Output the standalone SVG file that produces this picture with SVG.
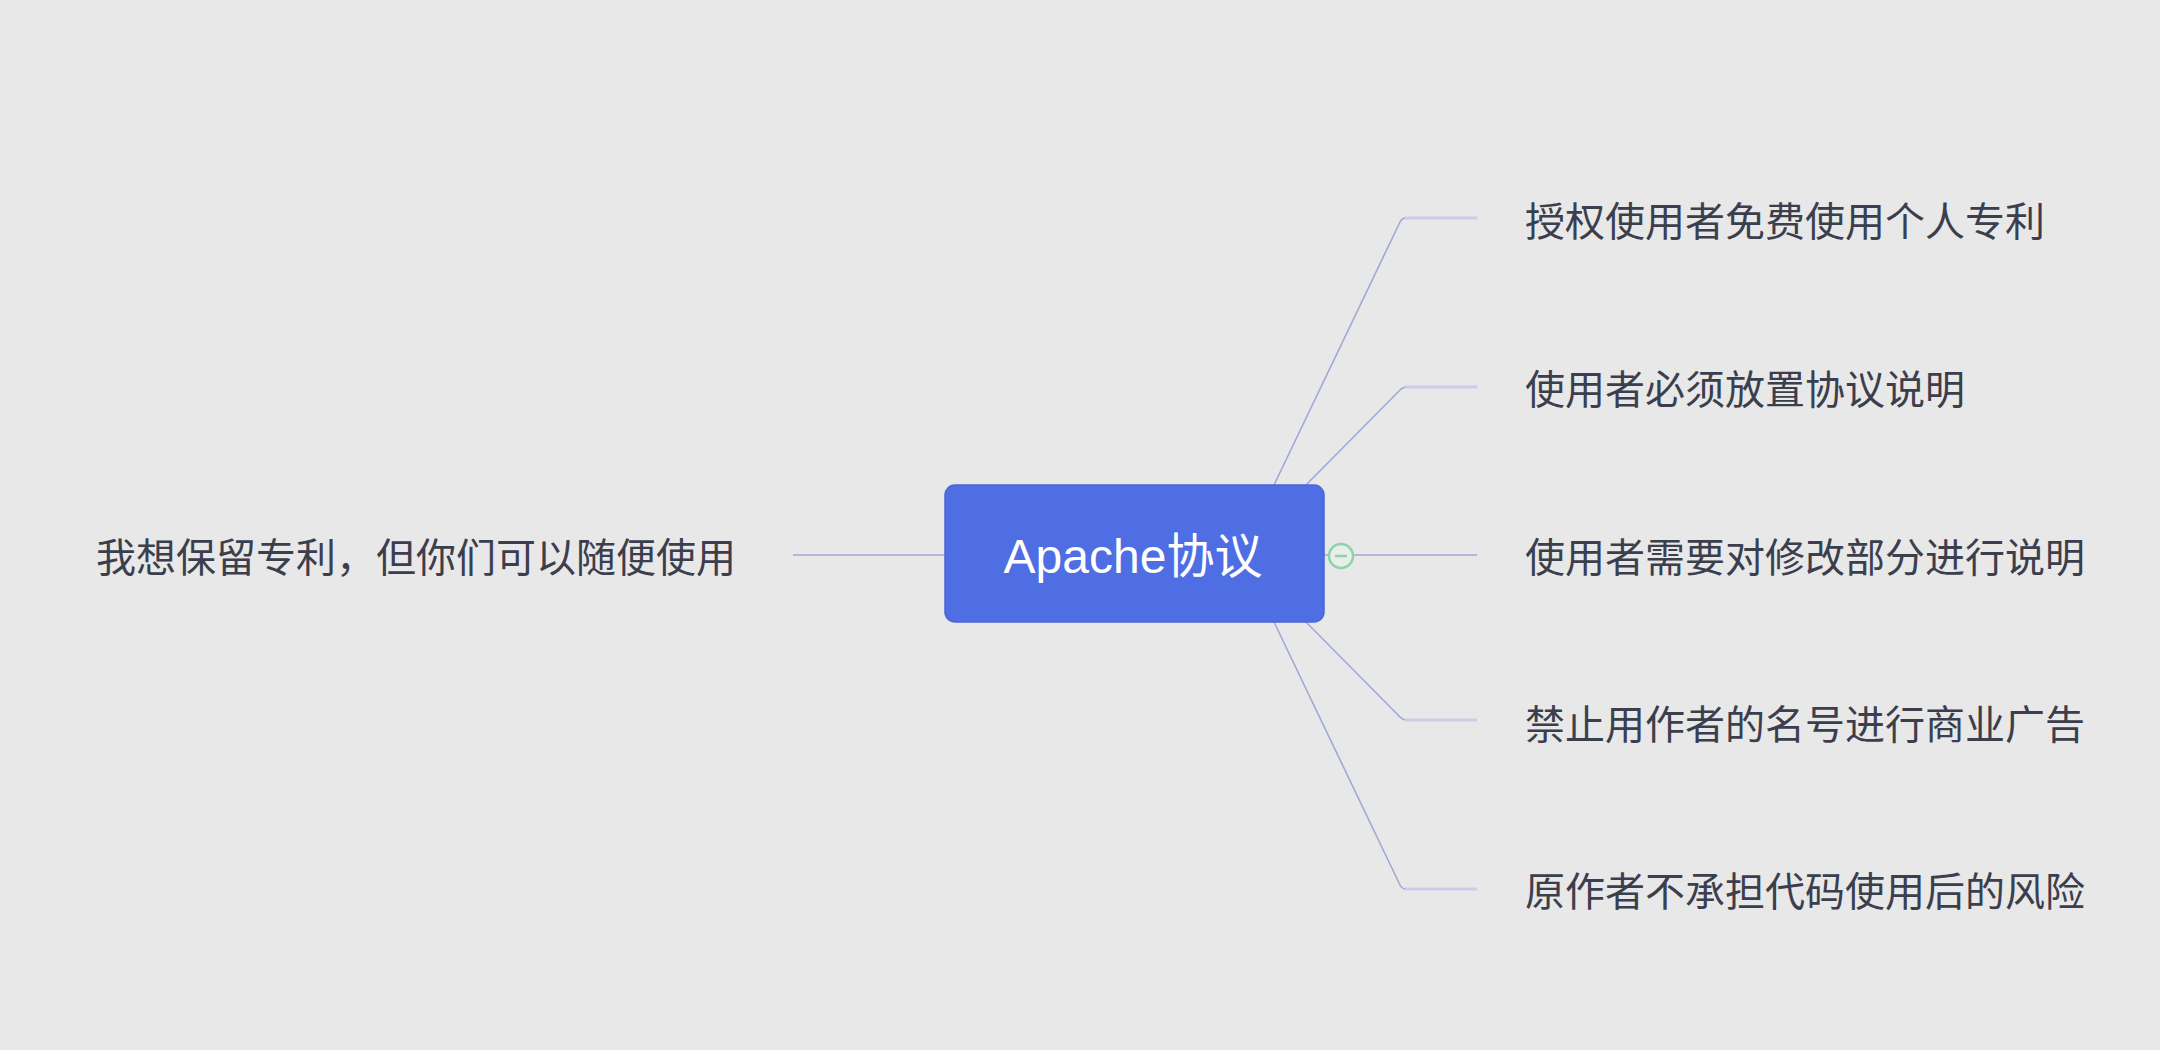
<svg xmlns="http://www.w3.org/2000/svg" width="2160" height="1050" viewBox="0 0 2160 1050">
<style>
.bg{fill:#e8e8e8}
.lbl{font-family:"Noto Sans CJK SC","Liberation Sans",sans-serif;font-size:40px;fill:#3b3e4d;dominant-baseline:central}
.diag{fill:none;stroke:#a0a8d8;stroke-width:1.6;stroke-linejoin:round}
.hor{fill:none;stroke:#c9cdea;stroke-width:3;stroke-linecap:butt}
.root-text{font-family:"Liberation Sans","Noto Sans CJK SC",sans-serif;font-size:48px;fill:#ffffff;dominant-baseline:central;text-anchor:middle}
</style>
<rect class="bg" x="0" y="0" width="2160" height="1050"/>
<g id="connectors">
  <path class="diag" d="M1274,485 L1400,222 Q1402,218 1406,218"/>
  <line class="hor" x1="1405" y1="218" x2="1477" y2="218"/>
  <path class="diag" d="M1306,485 L1400,390 Q1403,387 1407,387"/>
  <line class="hor" x1="1405" y1="387" x2="1477" y2="387"/>
  <line class="diag" x1="1354" y1="555" x2="1477" y2="555"/>
  <path class="diag" d="M1306,622 L1400,717 Q1403,720 1407,720"/>
  <line class="hor" x1="1405" y1="720" x2="1477" y2="720"/>
  <path class="diag" d="M1274,622 L1400,885 Q1402,889 1406,889"/>
  <line class="hor" x1="1405" y1="889" x2="1477" y2="889"/>
  <line class="diag" x1="793" y1="555" x2="945" y2="555"/>
  <line class="diag" x1="1323" y1="555" x2="1329" y2="555"/>
</g>
<g id="root">
  <rect x="945" y="485" width="379" height="137" rx="10" ry="10" fill="#4f6ee3" stroke="#4a66d6" stroke-width="1.5"/>
  <text class="root-text" x="1133" y="556">Apache协议</text>
</g>
<g id="collapse">
  <circle cx="1341" cy="556" r="12" fill="#e8eee9" stroke="#8fd1a8" stroke-width="2.5"/>
  <line x1="1335" y1="556" x2="1347" y2="556" stroke="#8fd1a8" stroke-width="2.5"/>
</g>
<g id="left">
  <text class="lbl" x="96" y="555">我想保留专利，但你们可以随便使用</text>
</g>
<g id="r1">
  <text class="lbl" x="1525" y="219">授权使用者免费使用个人专利</text>
</g>
<g id="r2">
  <text class="lbl" x="1525" y="387">使用者必须放置协议说明</text>
</g>
<g id="r3">
  <text class="lbl" x="1525" y="555">使用者需要对修改部分进行说明</text>
</g>
<g id="r4">
  <text class="lbl" x="1525" y="722">禁止用作者的名号进行商业广告</text>
</g>
<g id="r5">
  <text class="lbl" x="1525" y="889">原作者不承担代码使用后的风险</text>
</g>
</svg>
